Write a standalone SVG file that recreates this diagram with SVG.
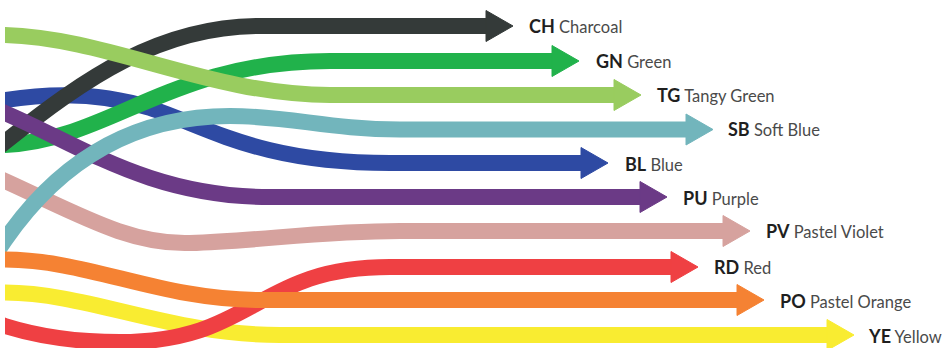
<svg xmlns="http://www.w3.org/2000/svg" xmlns:xlink="http://www.w3.org/1999/xlink" width="945" height="348" viewBox="0 0 945 348">
<style>
.band{fill:none;stroke-width:16;stroke-linecap:butt}
.lbl{font-family:Lato,"Open Sans","Liberation Sans",sans-serif;font-size:16.5px;fill:#4a4a4a}
.lbl .b{font-weight:700;font-size:18px;fill:#1f1f1f}
.ch{stroke:#343a39;fill:#343a39}
.gn{stroke:#21b24b;fill:#21b24b}
.tg{stroke:#99cc5f;fill:#99cc5f}
.sb{stroke:#72b5bc;fill:#72b5bc}
.bl{stroke:#2e4aa3;fill:#2e4aa3}
.pu{stroke:#6b3a86;fill:#6b3a86}
.pv{stroke:#d6a29e;fill:#d6a29e}
.rd{stroke:#ef4043;fill:#ef4043}
.po{stroke:#f58233;fill:#f58233}
.ye{stroke:#f9ec31;fill:#f9ec31}
.band.ch,.band.gn,.band.tg,.band.sb,.band.bl,.band.pu,.band.pv,.band.rd,.band.po,.band.ye{fill:none}
use{stroke:none}
</style>
<defs>
<clipPath id="clip"><rect x="5" y="0" width="940" height="348"/></clipPath>
<path id="head" d="M0,-15.5 L27,0 L0,15.5 Z"/>
</defs>
<g id="connectors">
<g clip-path="url(#clip)">
<path class="band bl" d="M-10,102 L5,100 C50,93 100,92 150,108 C210,128 260,163 390,163 L582,163"/>
<path class="band gn" d="M-10,145.5 L5,145 C110,140 170,61 330,61 L553,61"/>
<path class="band ch" d="M-10,154 L5,142 C85,78 160,26 260,26 L487,26"/>
<path class="band pv" d="M-10,174 L5,181 C80,215 130,245 190,243 C260,241 320,231 400,231 L724,231"/>
<path class="band pu" d="M-10,106 L5,113 C80,145 150,197 270,197 L641,197"/>
<path class="band tg" d="M-10,35 L5,35 C110,38 210,95 330,95 L615,95"/>
<path class="band sb" d="M-10,262 L5,240 C50,175 120,116 230,116 C290,116 330,129.5 400,129.5 L687,129.5"/>
<path class="band ye" d="M-10,292.5 L5,292.5 C90,293 170,335 280,335 L828,335"/>
<path class="band rd" d="M-10,321 L5,326 C40,337 80,342 120,342 C255,342 255,267 390,267 L672,267"/>
<path class="band po" d="M-10,259.5 L5,259.5 C90,260 160,300 260,300 L738,300"/>
</g>
<use href="#head" class="ch" x="486" y="26"/>
<use href="#head" class="gn" x="552" y="61"/>
<use href="#head" class="tg" x="614" y="95"/>
<use href="#head" class="sb" x="686" y="129.5"/>
<use href="#head" class="bl" x="581" y="163"/>
<use href="#head" class="pu" x="640" y="197"/>
<use href="#head" class="pv" x="723" y="231"/>
<use href="#head" class="rd" x="671" y="267"/>
<use href="#head" class="po" x="737" y="300"/>
<use href="#head" class="ye" x="827" y="335"/>
</g>
<g id="node-ch"><text class="lbl" x="529" y="33"><tspan class="b">CH</tspan> <tspan>Charcoal</tspan></text></g>
<g id="node-gn"><text class="lbl" x="596" y="68"><tspan class="b">GN</tspan> <tspan>Green</tspan></text></g>
<g id="node-tg"><text class="lbl" x="657" y="102"><tspan class="b">TG</tspan> <tspan>Tangy Green</tspan></text></g>
<g id="node-sb"><text class="lbl" x="728" y="136"><tspan class="b">SB</tspan> <tspan>Soft Blue</tspan></text></g>
<g id="node-bl"><text class="lbl" x="625" y="171"><tspan class="b">BL</tspan> <tspan>Blue</tspan></text></g>
<g id="node-pu"><text class="lbl" x="683" y="205"><tspan class="b">PU</tspan> <tspan>Purple</tspan></text></g>
<g id="node-pv"><text class="lbl" x="766" y="238"><tspan class="b">PV</tspan> <tspan>Pastel Violet</tspan></text></g>
<g id="node-rd"><text class="lbl" x="714" y="274"><tspan class="b">RD</tspan> <tspan>Red</tspan></text></g>
<g id="node-po"><text class="lbl" x="780" y="308"><tspan class="b">PO</tspan> <tspan>Pastel Orange</tspan></text></g>
<g id="node-ye"><text class="lbl" x="869" y="343"><tspan class="b">YE</tspan> <tspan>Yellow</tspan></text></g>
</svg>
